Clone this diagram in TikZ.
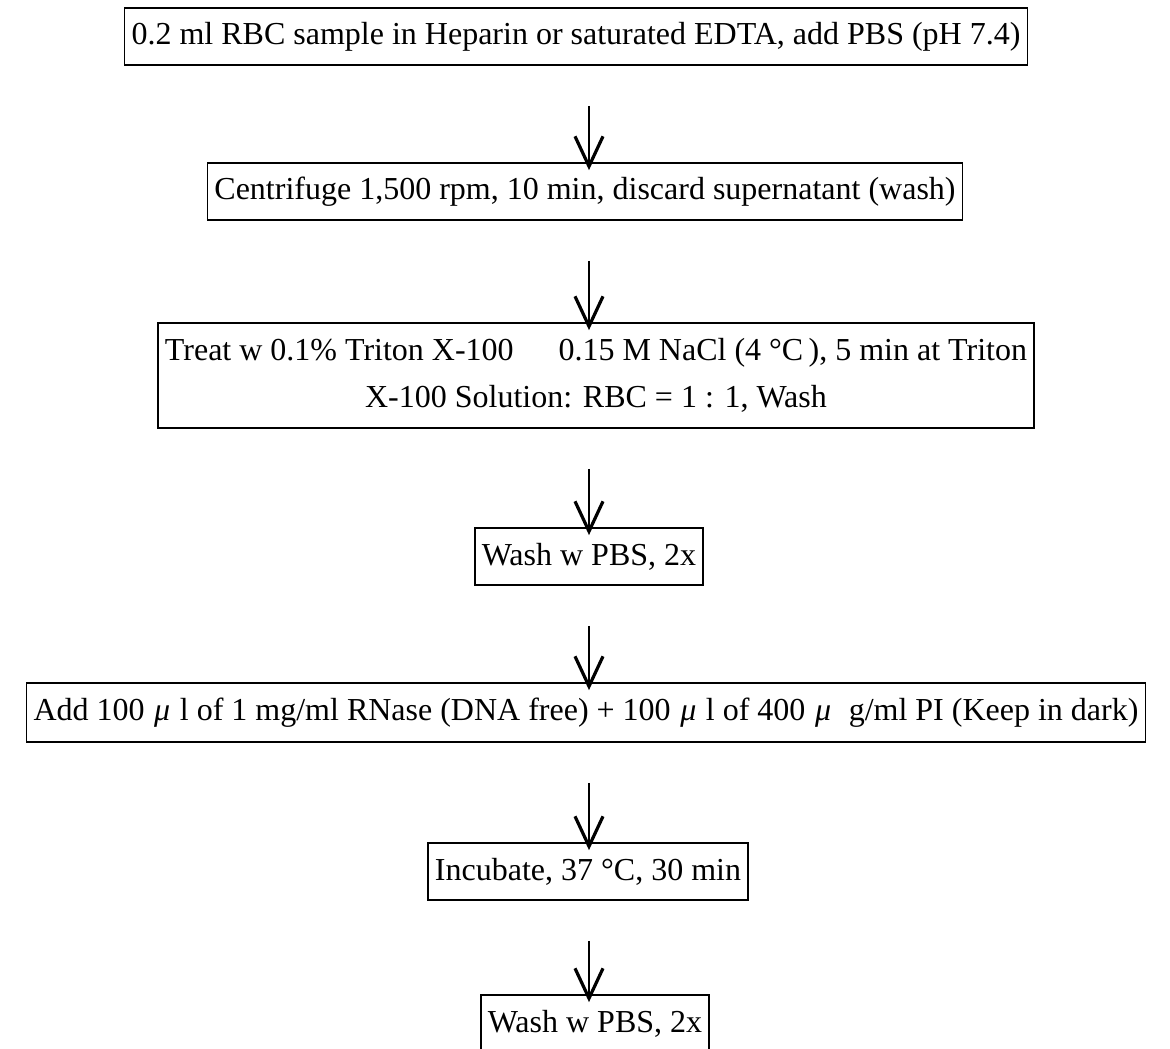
\documentclass[tikz,border=0pt]{standalone}
\usepackage{fontspec}
\setmainfont{Liberation Serif}
\usetikzlibrary{arrows.meta,calc}
\newcommand{\mugap}{\hspace{0.3em}\textit{μ}\hspace{0.3em}}
\begin{document}
\begin{tikzpicture}[x=1pt,y=1pt,
  stepbox/.style={draw=black, line width=1.8pt, inner xsep=7pt, inner ysep=0pt,
    minimum height=57pt, font=\fontsize{32}{47}\selectfont, text=black},
  flow/.style={line width=2.4pt, -{Straight Barb[length=30pt,width=28pt,line width=3.2pt]}}]
\useasboundingbox (0,0) rectangle (1170,-1049);
\fill[white] (0,0) rectangle (1170,-1049);
\coordinate (ax) at (589,0);
\node[stepbox] (b1) at (576,-36.5) {0.2 ml RBC sample in Heparin or saturated EDTA, add PBS (pH 7.4)};
\node[stepbox] (b2) at (585,-191.5) {Centrifuge 1,500 rpm, 10 min, discard supernatant (wash)};
\node[stepbox, minimum height=105pt, align=center] (b3) at (596,-375.5)
  {Treat w 0.1\% Triton X-100\hspace{1.4em}0.15 M NaCl (4 °C\,), 5 min at Triton\\X-100 Solution: RBC = 1 : 1, Wash};
\node[stepbox] (b4) at (589,-556.5) {Wash w PBS, 2x};
\node[stepbox, minimum height=59pt] (b5) at (586,-712.5)
  {Add 100\mugap l of 1 mg/ml RNase (DNA free) + 100\mugap l of 400\mugap\ g/ml PI (Keep in dark)};
\node[stepbox] (b6) at (588,-871.5) {Incubate, 37 °C, 30 min};
\node[stepbox] (b7) at (595,-1023.5) {Wash w PBS, 2x};
\foreach \a/\b in {b1/b2,b2/b3,b3/b4,b4/b5,b5/b6,b6/b7}{
  \draw[flow] ($(\a.south -| ax)+(0,-40)$) -- ($(\b.north -| ax)+(0,-8)$);
}
\end{tikzpicture}
\end{document}
